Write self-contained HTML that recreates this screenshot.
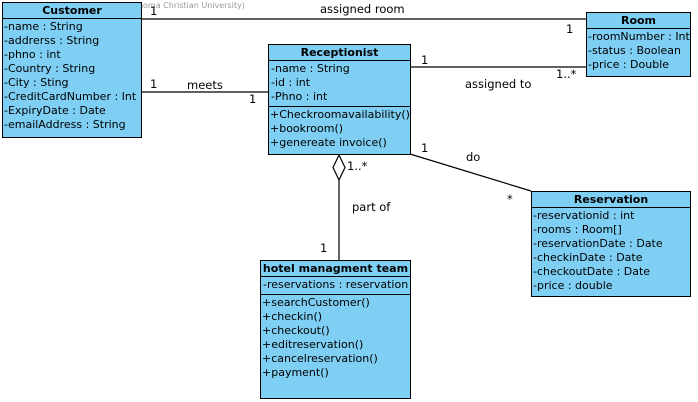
<!DOCTYPE html>
<html><head><style>
body{margin:0;width:698px;height:402px;background:#fff;position:relative;overflow:hidden;font-family:"DejaVu Sans","Liberation Sans",sans-serif;font-size:11px;color:#000}
.b{position:absolute;background:#7ecff3;border:1px solid #000;box-sizing:border-box}
.h{font-weight:bold;text-align:center;border-bottom:1px solid #000;height:15px;line-height:15px}
.s{border-bottom:1px solid #000;padding:1px 0 2px 1px}
.r{line-height:14px;white-space:nowrap;padding-left:1px}
.t{position:absolute;white-space:nowrap;font-size:11.5px}
svg{position:absolute;left:0;top:0}
</style></head><body>
<svg width="698" height="402">
<g stroke="#000" stroke-width="1.2" fill="none">
<line x1="141" y1="19" x2="586" y2="19"/>
<line x1="141" y1="92" x2="268" y2="92"/>
<line x1="410" y1="67" x2="586" y2="67"/>
<line x1="410" y1="154" x2="531" y2="191"/>
<line x1="339" y1="180" x2="339" y2="260"/>
<polygon points="339,155 345,167.5 339,180 333,167.5" fill="#fff"/>
</g></svg>
<div class="t" style="left:2px;top:1px;font-size:8px;color:#999">Visual Paradigm Professional(Oklahoma Christian University)</div>
<div class="b" style="left:2px;top:2px;width:140px;height:136px">
<div class="h">Customer</div>
<div style="padding-top:1px">
<div class="r">-name : String</div><div class="r">-addrerss : String</div><div class="r">-phno : int</div><div class="r">-Country : String</div><div class="r">-City : Sting</div><div class="r">-CreditCardNumber : Int</div><div class="r">-ExpiryDate : Date</div><div class="r">-emailAddress : String</div></div></div>
<div class="b" style="left:586px;top:12px;width:105px;height:65px">
<div class="h">Room</div><div style="padding-top:1px">
<div class="r">-roomNumber : Int</div><div class="r">-status : Boolean</div><div class="r">-price : Double</div></div></div>
<div class="b" style="left:268px;top:44px;width:143px;height:111px">
<div class="h">Receptionist</div>
<div class="s"><div class="r">-name : String</div><div class="r">-id : int</div><div class="r">-Phno : int</div></div>
<div style="padding-top:1px"><div class="r">+Checkroomavailability()</div><div class="r">+bookroom()</div><div class="r">+genereate invoice()</div></div></div>
<div class="b" style="left:260px;top:260px;width:151px;height:139px">
<div class="h">hotel managment team</div>
<div class="s"><div class="r">-reservations : reservation</div></div>
<div style="padding-top:1px"><div class="r">+searchCustomer()</div><div class="r">+checkin()</div><div class="r">+checkout()</div><div class="r">+editreservation()</div><div class="r">+cancelreservation()</div><div class="r">+payment()</div></div></div>
<div class="b" style="left:531px;top:191px;width:160px;height:106px">
<div class="h">Reservation</div><div style="padding-top:1px">
<div class="r">-reservationid : int</div><div class="r">-rooms : Room[]</div><div class="r">-reservationDate : Date</div><div class="r">-checkinDate : Date</div><div class="r">-checkoutDate : Date</div><div class="r">-price : double</div></div></div>
<div class="t" style="left:150px;top:4px">1</div>
<div class="t" style="left:320px;top:2px">assigned room</div>
<div class="t" style="left:566px;top:22px">1</div>
<div class="t" style="left:150px;top:77px">1</div>
<div class="t" style="left:187px;top:78px">meets</div>
<div class="t" style="left:249px;top:92px">1</div>
<div class="t" style="left:421px;top:53px">1</div>
<div class="t" style="left:556px;top:67px">1..*</div>
<div class="t" style="left:465px;top:77px">assigned to</div>
<div class="t" style="left:421px;top:141px">1</div>
<div class="t" style="left:466px;top:150px">do</div>
<div class="t" style="left:507px;top:192px">*</div>
<div class="t" style="left:347px;top:159px">1..*</div>
<div class="t" style="left:352px;top:200px">part of</div>
<div class="t" style="left:320px;top:241px">1</div>
</body></html>
